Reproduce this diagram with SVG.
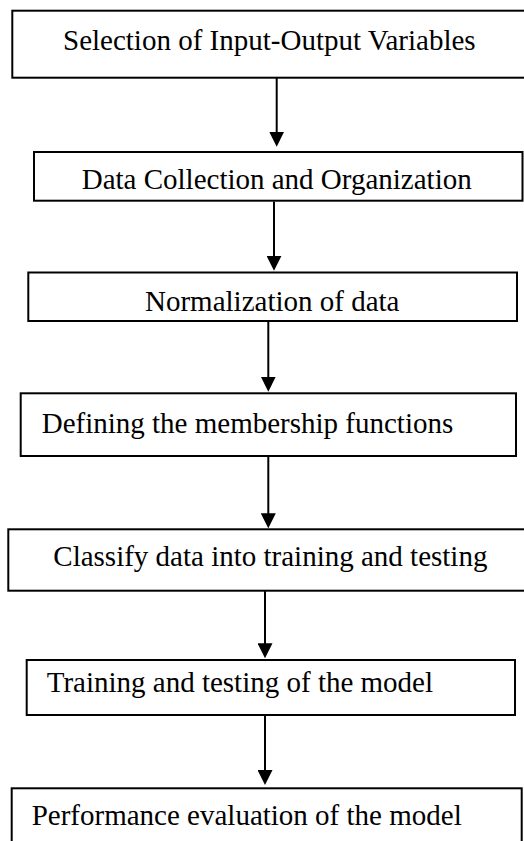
<svg xmlns="http://www.w3.org/2000/svg" width="524" height="841" viewBox="0 0 524 841">
  <style>
    .box { fill: #ffffff; stroke: #000000; stroke-width: 2; }
    .lbl { font-family: "Liberation Serif", "Times New Roman", serif; font-size: 29px; fill: #000000; }
    .conn { stroke: #000000; stroke-width: 2; fill: none; marker-end: url(#arrow); }
  </style>
  <defs>
    <marker id="arrow" viewBox="0 0 15 15" refX="7" refY="7.5" markerWidth="15" markerHeight="15" markerUnits="userSpaceOnUse" orient="auto">
      <path d="M0,0 L15,7.5 L0,15 z" fill="#000000"/>
    </marker>
  </defs>
  <rect width="524" height="841" fill="#ffffff"/>

  <g id="connectors">
    <path class="conn" d="M276.7,78 L276.7,138.7"/>
    <path class="conn" d="M274,201.5 L274,262.7"/>
    <path class="conn" d="M268.3,322 L268.3,383.7"/>
    <path class="conn" d="M268.3,457 L268.3,520.3"/>
    <path class="conn" d="M265,591 L265,650.3"/>
    <path class="conn" d="M265,716 L265,777"/>
  </g>

  <g id="node1">
    <rect class="box" x="12.3" y="10.7" width="520" height="67"/>
    <text class="lbl" x="63" y="50">Selection of Input-Output Variables</text>
  </g>
  <g id="node2">
    <rect class="box" x="34" y="152" width="488.5" height="48.7"/>
    <text class="lbl" x="81.7" y="189.3">Data Collection and Organization</text>
  </g>
  <g id="node3">
    <rect class="box" x="28.3" y="272.5" width="488.7" height="48.5"/>
    <text class="lbl" x="145" y="310.7">Normalization of data</text>
  </g>
  <g id="node4">
    <rect class="box" x="20.7" y="393.3" width="495.3" height="62.7"/>
    <text class="lbl" x="41.7" y="432.7">Defining the membership functions</text>
  </g>
  <g id="node5">
    <rect class="box" x="8.3" y="529.3" width="524" height="61.4"/>
    <text class="lbl" x="53.3" y="565.5">Classify data into training and testing</text>
  </g>
  <g id="node6">
    <rect class="box" x="26.7" y="660" width="488.3" height="55"/>
    <text class="lbl" x="46.7" y="691.7">Training and testing of the model</text>
  </g>
  <g id="node7">
    <rect class="box" x="11.7" y="788.3" width="510" height="70"/>
    <text class="lbl" x="31.7" y="825">Performance evaluation of the model</text>
  </g>
</svg>
